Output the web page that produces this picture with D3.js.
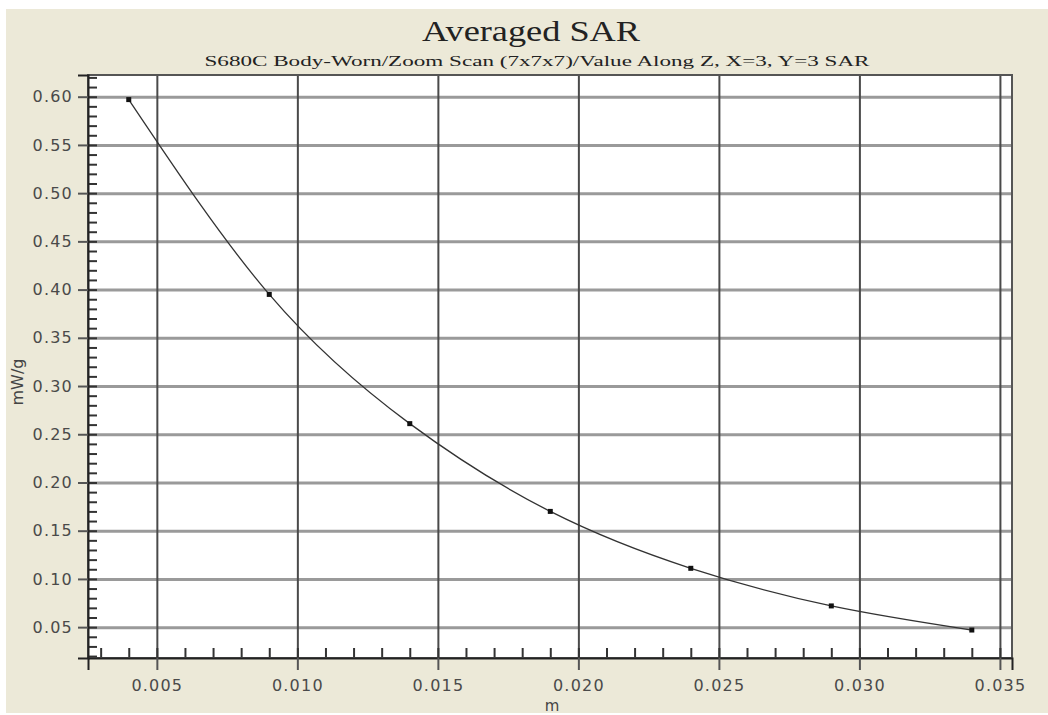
<!DOCTYPE html>
<html>
<head>
<meta charset="utf-8">
<script src="https://cdn.jsdelivr.net/npm/d3@7"></script>
<style>
  body { margin: 0; background: #fff; }
  svg { display: block; }
  .tick text { font-family: "DejaVu Sans", Verdana, sans-serif; font-size: 16px; fill: #4a4a4a; letter-spacing: 1.2px; }
</style>
</head>
<body>
<div id="chart"></div>
<script>
// distance along Z (m) and averaged SAR (mW/g)
var zPos = [0.004, 0.009, 0.014, 0.019, 0.024, 0.029, 0.034];
var sarVals = [0.597, 0.395, 0.261, 0.170, 0.111, 0.072, 0.047];
var xTickVals = [0.005, 0.010, 0.015, 0.020, 0.025, 0.030, 0.035];
var yTickVals = [0.05, 0.10, 0.15, 0.20, 0.25, 0.30, 0.35, 0.40, 0.45, 0.50, 0.55, 0.60];
var titleText = 'Averaged SAR';
var subTitleText = 'S680C Body-Worn/Zoom Scan (7x7x7)/Value Along Z, X=3, Y=3 SAR';

var W = 1048, H = 715;
var m = { left: 88, top: 75, right: 1012, bottom: 658 };

var svg = d3.select('#chart').append('svg').attr('width', W).attr('height', H);

// beige panel
svg.append('rect').attr('x', 6).attr('y', 9).attr('width', W - 6).attr('height', 704).attr('fill', '#ece9d8');

var x = d3.scaleLinear().domain([0.00255, 0.03543]).range([m.left, m.right]);
var y = d3.scaleLinear().domain([0.018, 0.6225]).range([m.bottom, m.top]);

svg.append('rect').attr('x', m.left).attr('y', m.top)
    .attr('width', m.right - m.left).attr('height', m.bottom - m.top).attr('fill', '#fff');

// grid
var gy = svg.append('g').attr('transform', 'translate(' + m.left + ',0)')
    .call(d3.axisLeft(y).tickValues(yTickVals).tickSize(-(m.right - m.left)).tickFormat(''));
gy.selectAll('line').attr('stroke', '#9a9a9a').attr('stroke-width', 3);
gy.select('.domain').remove();

var gx = svg.append('g').attr('transform', 'translate(0,' + m.bottom + ')')
    .call(d3.axisBottom(x).tickValues(xTickVals).tickSize(-(m.bottom - m.top)).tickFormat(''));
gx.selectAll('line').attr('stroke', '#4a4a4a').attr('stroke-width', 2);
gx.select('.domain').remove();

// minor ticks (inside)
var minorY = d3.range(2, 63).map(function(i) { return i / 100; }).filter(function(v) { return v >= 0.018 && v <= 0.6225; });
var minorX = d3.range(3, 36).map(function(i) { return i / 1000; });

var my = svg.append('g').attr('transform', 'translate(' + m.left + ',0)')
    .call(d3.axisRight(y).tickValues(minorY).tickSize(9).tickFormat(''));
my.selectAll('line').attr('stroke', '#333').attr('stroke-width', 2);
my.select('.domain').remove();

var mx = svg.append('g').attr('transform', 'translate(0,' + m.bottom + ')')
    .call(d3.axisTop(x).tickValues(minorX).tickSize(10).tickFormat(''));
mx.selectAll('line').attr('stroke', '#333').attr('stroke-width', 2);
mx.select('.domain').remove();

// frame
svg.append('rect').attr('x', m.left).attr('y', m.top)
    .attr('width', m.right - m.left).attr('height', m.bottom - m.top)
    .attr('fill', 'none').attr('stroke', '#555').attr('stroke-width', 2);

// major axes with labels
var ay = svg.append('g').attr('transform', 'translate(' + m.left + ',0)')
    .call(d3.axisLeft(y).tickValues(yTickVals).tickSize(10).tickPadding(5).tickFormat(d3.format('.2f')));
ay.select('.domain').attr('stroke', '#222').attr('stroke-width', 2);
ay.selectAll('line').attr('stroke', '#555').attr('stroke-width', 2);

var ax = svg.append('g').attr('transform', 'translate(0,' + m.bottom + ')')
    .call(d3.axisBottom(x).tickValues(xTickVals).tickSize(12).tickPadding(10).tickFormat(d3.format('.3f')));
ax.select('.domain').attr('stroke', '#222').attr('stroke-width', 2);
ax.selectAll('line').attr('stroke', '#555').attr('stroke-width', 2);

// data line
var pts = zPos.map(function(z, i) { return [z, sarVals[i]]; });
var line = d3.line().x(function(d) { return x(d[0]); }).y(function(d) { return y(d[1]); }).curve(d3.curveNatural);
svg.append('path').datum(pts).attr('d', line).attr('fill', 'none').attr('stroke', '#333').attr('stroke-width', 1.3);

svg.selectAll('.pt').data(pts).enter().append('rect')
    .attr('x', function(d) { return x(d[0]) - 2.5; })
    .attr('y', function(d) { return y(d[1]) - 2.5; })
    .attr('width', 5).attr('height', 5).attr('fill', '#111');

// titles
svg.append('text').attr('x', 531).attr('y', 41).attr('text-anchor', 'middle')
    .attr('font-family', '"Liberation Serif", "Times New Roman", serif').attr('font-size', 30)
    .attr('fill', '#222').attr('textLength', 218).attr('lengthAdjust', 'spacingAndGlyphs')
    .text(titleText);
svg.append('text').attr('x', 537).attr('y', 66).attr('text-anchor', 'middle')
    .attr('font-family', '"Liberation Serif", "Times New Roman", serif').attr('font-size', 15)
    .attr('fill', '#222').attr('textLength', 665).attr('lengthAdjust', 'spacingAndGlyphs')
    .text(subTitleText);

// axis labels
svg.append('text').attr('transform', 'translate(23,382) rotate(-90)').attr('text-anchor', 'middle')
    .attr('font-family', '"DejaVu Sans", Verdana, sans-serif').attr('font-size', 16).attr('fill', '#444')
    .text('mW/g');
svg.append('text').attr('x', 552).attr('y', 711).attr('text-anchor', 'middle')
    .attr('font-family', '"DejaVu Sans", Verdana, sans-serif').attr('font-size', 15).attr('fill', '#444')
    .text('m');
</script>
</body>
</html>
